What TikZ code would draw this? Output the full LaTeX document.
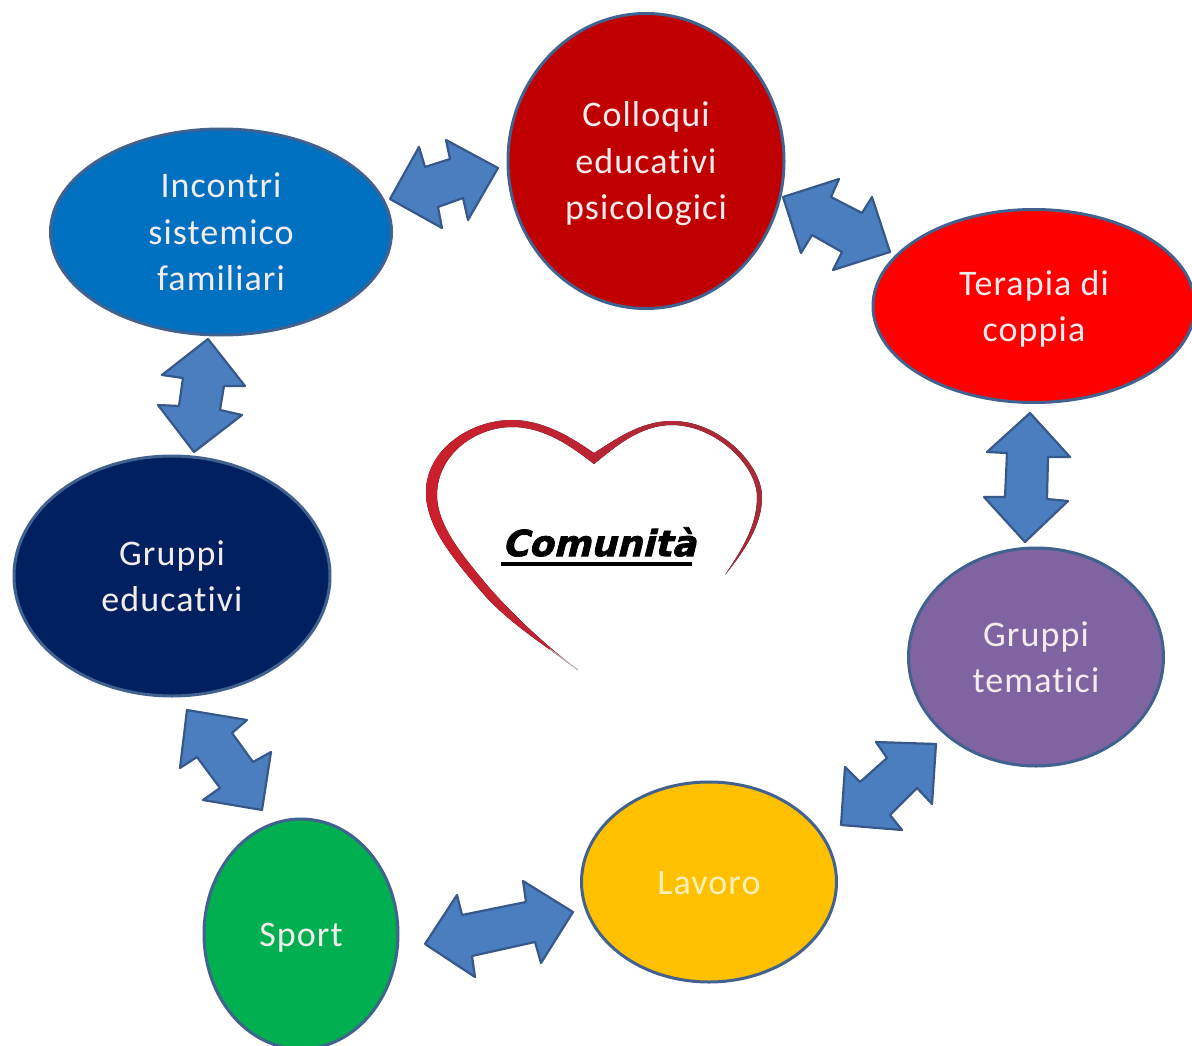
\documentclass[tikz,border=0pt]{standalone}
\usepackage{fontspec}
\setmainfont[LetterSpace=3,Ligatures=NoCommon]{Carlito}
\newfontfamily\heavyfont{DejaVu Sans Bold}[FakeSlant=.25,FakeBold=2]
\usetikzlibrary{shapes.geometric}
\definecolor{nodeedge}{HTML}{41618E}
\definecolor{arrowfill}{HTML}{4A7EBF}
\definecolor{arrowedge}{HTML}{37588A}
\definecolor{colc}{HTML}{C00000}
\definecolor{incc}{HTML}{0070C0}
\definecolor{terc}{HTML}{FF0000}
\definecolor{temc}{HTML}{8064A2}
\definecolor{lavc}{HTML}{FFC000}
\definecolor{spoc}{HTML}{00B050}
\definecolor{educ}{HTML}{002060}
\definecolor{heartl}{HTML}{CC1F2D}
\definecolor{heartr}{HTML}{A82A3A}
\definecolor{softwhite}{HTML}{F4ECEC}
\definecolor{softyellow}{HTML}{FFF0B8}
\newcommand{\ls}{\rule[-11pt]{0pt}{46.5pt}}
\tikzset{
  circlenode/.style={ellipse,draw=nodeedge,line width=3pt,inner sep=0pt,align=center,
    text=softwhite,font=\fontsize{36}{46.5}\selectfont},
  blockarrow/.style={fill=arrowfill,draw=arrowedge,line width=2.2pt,line join=round},
}
\begin{document}
\begin{tikzpicture}[x=1pt,y=-1pt]
\useasboundingbox (0,0) rectangle (1192,1046);
\clip (0,0) rectangle (1192,1046);
% heart
\fill[left color=heartl,right color=heartr]
  (578,670) .. controls (540,642) and (505,620) .. (480,590)
  .. controls (450,555) and (426,525) .. (426,492)
  .. controls (426,450) and (470,420) .. (512,420)
  .. controls (545,420) and (575,440) .. (594,453)
  .. controls (615,440) and (640,421) .. (672,421)
  .. controls (720,421) and (762,465) .. (762,497)
  .. controls (762,525) and (745,550) .. (725,575)
  .. controls (743,548) and (757,525) .. (757,497)
  .. controls (757,465) and (715,425) .. (672,425)
  .. controls (640,425) and (615,447) .. (594,464)
  .. controls (572,447) and (545,427) .. (512,427)
  .. controls (475,427) and (437,455) .. (437,495)
  .. controls (437,525) and (462,555) .. (487,585)
  .. controls (510,612) and (545,645) .. (578,670) -- cycle;
\draw[gray!55,line width=.9pt] (550,649) -- (578,670);
\node[font=\heavyfont\fontsize{36}{36}\selectfont,text=black,inner sep=0pt] (comu) at (599,542) {Comunità};
\coordinate (ula) at (501,564);
\coordinate (ulb) at (692,564);
\draw[black,line width=4pt] (ula) -- (ulb);
% nodes
\node[circlenode,fill=colc,minimum width=276pt,minimum height=295pt] (coll) at (646,161) {\ls Colloqui\\\ls educativi\\\ls psicologici};
\node[circlenode,fill=incc,minimum width=341pt,minimum height=206pt] (inc) at (221,232) {\ls Incontri\\\ls sistemico\\\ls familiari};
\node[circlenode,fill=terc,minimum width=322pt,minimum height=193pt] (ter) at (1034,306) {\ls Terapia di\\\ls coppia};
\node[circlenode,fill=temc,minimum width=255pt,minimum height=218pt] (tem) at (1036,657) {\ls Gruppi\\\ls tematici};
\node[circlenode,fill=lavc,text=softyellow,minimum width=255pt,minimum height=200pt] (lav) at (709,882) {\ls Lavoro};
\node[circlenode,fill=spoc,minimum width=194pt,minimum height=230pt] (spo) at (301,934) {\ls Sport};
\node[circlenode,fill=educ,minimum width=316pt,minimum height=240pt] (edu) at (172,576) {\ls Gruppi\\\ls educativi};
% arrows
\draw[blockarrow] (390,199)--(419,147)--(425,167)--(450,159)--(446,140)--(498,168)--(468,220)--(463,198)--(438,207)--(442,228)--cycle;
\draw[blockarrow] (783,197)--(839,179)--(831,197)--(862,213)--(872,197)--(890,252)--(833,270)--(842,252)--(812,235)--(801,253)--cycle;
\draw[blockarrow] (1030,413)--(1070,457)--(1048,457)--(1047,499)--(1068,501)--(1025,542)--(984,497)--(1005,497)--(1007,453)--(987,452)--cycle;
\draw[blockarrow] (876,742)--(936,744)--(932,804)--(917,788)--(890,815)--(902,830)--(841,825)--(845,767)--(860,782)--(887,758)--cycle;
\draw[blockarrow] (425,944)--(457,895)--(462,915)--(526,902)--(523,881)--(573,912)--(541,963)--(535,942)--(472,956)--(475,977)--cycle;
\draw[blockarrow] (187,710)--(247,720)--(232,733)--(253,762)--(271,752)--(262,810)--(203,800)--(220,788)--(197,757)--(180,768)--cycle;
\draw[blockarrow] (208,339)--(245,386)--(224,386)--(220,410)--(242,415)--(194,452)--(158,405)--(179,406)--(183,378)--(162,375)--cycle;
\end{tikzpicture}
\end{document}
